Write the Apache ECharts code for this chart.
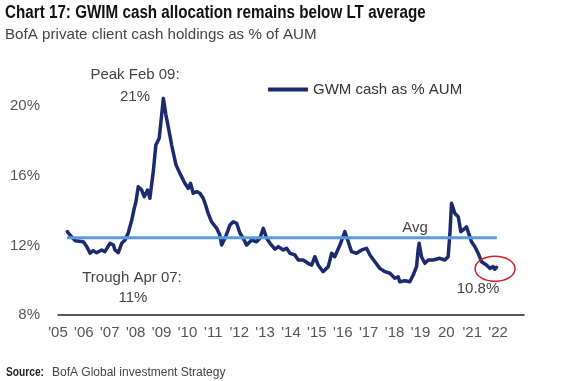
<!DOCTYPE html>
<html>
<head>
<meta charset="utf-8">
<script src="https://cdn.jsdelivr.net/npm/echarts@6/dist/echarts.min.js"></script>
<style>
html,body{margin:0;padding:0;background:#fff;}
#chart{width:573px;height:381px;}
</style>
</head>
<body>
<div id="chart"></div>
<script>
// Dates as decimal years, values in % of AUM
const dates = [2005.36,2005.46,2005.66,2005.98,2006.11,2006.24,2006.36,2006.49,2006.69,2006.81,
2007.01,2007.14,2007.20,2007.33,2007.46,2007.59,2007.71,2007.85,2007.93,2008.01,
2008.10,2008.23,2008.33,2008.46,2008.55,2008.68,2008.78,2008.91,2009.07,2009.17,
2009.32,2009.39,2009.56,2009.71,2009.90,2010.03,2010.12,2010.22,2010.36,2010.48,
2010.61,2010.68,2010.80,2010.93,2011.13,2011.25,2011.32,2011.45,2011.64,2011.77,
2011.90,2012.03,2012.15,2012.29,2012.48,2012.67,2012.80,2012.93,2013.06,2013.19,
2013.38,2013.51,2013.70,2013.83,2013.96,2014.15,2014.28,2014.47,2014.66,2014.80,
2014.92,2015.05,2015.24,2015.44,2015.57,2015.69,2015.89,2016.08,2016.21,2016.34,
2016.53,2016.73,2016.92,2017.05,2017.24,2017.43,2017.63,2017.82,2018.01,2018.14,
2018.20,2018.40,2018.59,2018.72,2018.85,2018.91,2018.95,2019.04,2019.17,2019.30,
2019.49,2019.75,2019.94,2020.07,2020.14,2020.20,2020.33,2020.46,2020.56,2020.65,
2020.78,2020.84,2020.97,2021.10,2021.23,2021.36,2021.55,2021.68,2021.81,2021.87,2021.94];
const cash = [12.79,12.60,12.27,12.21,11.93,11.55,11.70,11.58,11.74,11.64,
12.12,12.02,11.74,11.58,12.12,12.31,12.70,13.46,14.03,14.51,
15.37,15.18,14.80,15.18,14.71,16.24,17.77,18.16,20.45,19.49,
18.34,17.77,16.62,16.14,15.57,15.28,15.57,15.00,15.09,15.00,
14.71,14.42,13.84,13.36,12.98,12.60,12.02,12.41,13.17,13.36,
13.27,12.70,12.41,12.02,12.31,12.21,12.41,12.98,12.41,12.12,
11.78,11.93,11.74,11.83,11.55,11.45,11.16,11.16,10.97,10.87,
11.35,10.87,10.49,10.78,11.55,11.35,12.02,12.79,12.21,11.64,
11.55,11.74,11.83,11.45,11.06,10.68,10.49,10.40,10.11,10.20,
9.91,9.97,9.91,10.30,10.78,11.74,12.12,11.35,10.97,11.16,
11.16,11.26,11.16,11.35,12.70,14.42,13.84,13.65,12.79,12.89,
13.07,12.79,12.21,11.93,11.55,11.06,10.87,10.68,10.78,10.63,10.74];
const avgValue = 12.44;
const avgSpan = [2005.35, 2021.95];
const yearLabels = ["'05","'06","'07","'08","'09","'10","'11","'12","'13","'14","'15","'16","'17","'18","'19","20","'21","'22"];
const yTicks = [8, 12, 16, 20];
const seriesName = 'GWM cash as % AUM';

const FONT = '"Liberation Sans", Arial, sans-serif';
const NAVY = '#1c2a6e';
const LIGHT = '#5a9ae0';

const chart = echarts.init(document.getElementById('chart'), null, {renderer: 'canvas'});
const option = {
  animation: false,
  backgroundColor: '#ffffff',
  legend: {
    data: [seriesName], left: 263, top: 77, itemWidth: 40, itemHeight: 4, icon: 'rect',
    textStyle: {fontFamily: FONT, fontSize: 15, color: '#333'}
  },
  grid: {left: 58, right: 49, top: 71.4, bottom: 66, containLabel: false},
  xAxis: {
    type: 'value', min: 2005, max: 2023, interval: 1,
    axisLine: {show: true, lineStyle: {color: '#222', width: 1.5}},
    axisTick: {show: false}, splitLine: {show: false},
    axisLabel: {margin: 10, fontFamily: FONT, fontSize: 15, color: '#555',
      formatter: v => yearLabels[Math.round(v) - 2005] || ''}
  },
  yAxis: {
    type: 'value', min: 8, max: 22, interval: 4,
    axisLine: {show: false}, axisTick: {show: false}, splitLine: {show: false},
    axisLabel: {margin: 18, fontFamily: FONT, fontSize: 15, color: '#555',
      formatter: v => yTicks.indexOf(v) >= 0 ? v + '%' : ''}
  },
  series: [
    {name: seriesName, type: 'line', showSymbol: false, symbol: 'none', z: 2,
     data: dates.map((d, i) => [d, cash[i]]),
     lineStyle: {color: NAVY, width: 3.5, join: 'round', cap: 'round'}, itemStyle: {color: NAVY}},
    {name: 'Avg', type: 'line', showSymbol: false, symbol: 'none', z: 3,
     data: avgSpan.map(d => [d, avgValue]),
     lineStyle: {color: LIGHT, width: 3}, itemStyle: {color: LIGHT}}
  ]
};
chart.setOption(option);

function txt(t, x, y, opts) {
  opts = opts || {};
  return {type: 'text', x: x, y: y, z: 10, scaleX: opts.scaleX || 1,
    style: {text: t, fill: opts.fill || '#444',
      font: (opts.weight || 'normal') + ' ' + (opts.size || 15) + 'px ' + FONT,
      textAlign: opts.align || 'center', textVerticalAlign: 'middle',
      align: opts.align || 'center', verticalAlign: 'middle'}};
}
const last = chart.convertToPixel({gridIndex: 0}, [dates[dates.length - 1], cash[cash.length - 1]]);
chart.setOption({
  graphic: [
    txt('Chart 17: GWIM cash allocation remains below LT average', 5, 13,
        {size: 18, weight: 'bold', fill: '#111', align: 'left', scaleX: 0.845}),
    txt('BofA private client cash holdings as % of AUM', 5, 35,
        {size: 15, fill: '#444', align: 'left', scaleX: 1.01}),
    txt('Source:', 6, 373, {size: 12, weight: 'bold', fill: '#222', align: 'left', scaleX: 0.85}),
    txt('BofA Global investment Strategy', 52, 373, {size: 12, fill: '#444', align: 'left'}),
    txt('Peak Feb 09:', 135, 75), txt('21%', 135, 97),
    txt('Trough Apr 07:', 132, 278), txt('11%', 133, 298),
    txt('Avg', 415, 228), txt('10.8%', 478, 289),
    {type: 'ellipse', z: 10, shape: {cx: last[0] - 1.5, cy: last[1] + 1.5, rx: 20, ry: 12.5},
     style: {fill: 'none', stroke: '#d02128', lineWidth: 1.5}}
  ]
});
</script>
</body>
</html>
